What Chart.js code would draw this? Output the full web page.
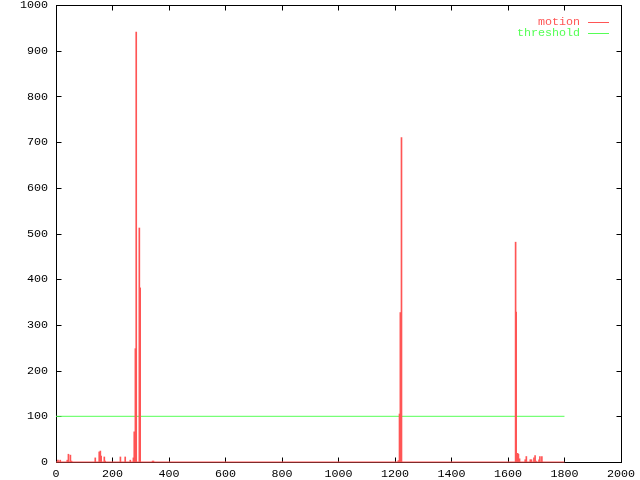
<!DOCTYPE html>
<html>
<head>
<meta charset="utf-8">
<script src="https://cdn.jsdelivr.net/npm/chart.js@4"></script>
<style>
  html, body { margin: 0; background: #fff; }
</style>
</head>
<body>
<canvas id="motionChart" width="640" height="480"></canvas>
<script>
// Data (frame number vs motion value)
const motionFrames = [7, 15, 40, 44, 51, 55, 139, 153, 157, 160, 171, 174, 228, 245, 263, 274, 277, 281, 284, 295, 298, 342, 345,
  1212, 1216, 1219, 1223, 1627, 1629, 1634, 1637, 1641, 1661, 1665, 1679, 1683, 1692, 1696, 1699, 1710, 1713, 1720];
const motionValues = [4, 4, 4, 17, 15, 2, 9, 22, 24, 13, 11, 2, 11, 11, 4, 9, 66, 248, 941, 512, 381, 2, 2,
  3, 105, 327, 710, 481, 328, 19, 17, 7, 5, 12, 5, 5, 9, 14, 2, 5, 12, 12];
const baselineFrames = [0, 1800];
const baselineValues = [0, 0];
const thresholdFrames = [0, 1800];
const thresholdValues = [100, 100];
const xTicks = [0, 200, 400, 600, 800, 1000, 1200, 1400, 1600, 1800, 2000];
const yTicks = [0, 100, 200, 300, 400, 500, 600, 700, 800, 900, 1000];

const motionColor = 'rgb(255,85,85)';
const thresholdColor = 'rgb(85,255,85)';
const tickFont = { family: "'Liberation Mono', 'DejaVu Sans Mono', monospace", size: 11.7 };

// gnuplot style frame: border box with inward ticks on all four sides
const framePlugin = {
    id: 'frame',
    beforeDatasetsDraw(chart) {
        const { ctx, chartArea: a, scales } = chart;
        ctx.save();
        ctx.strokeStyle = '#000';
        ctx.lineWidth = 1;
        const l = Math.round(a.left) + 0.5, r = Math.round(a.right) + 0.5;
        const t = Math.round(a.top) + 0.5, b = Math.round(a.bottom) + 0.5;
        ctx.strokeRect(l, t, r - l, b - t);
        ctx.beginPath();
        yTicks.forEach(v => {
            const y = Math.round(scales.y.getPixelForValue(v)) + 0.5;
            ctx.moveTo(l, y); ctx.lineTo(l + 5, y);
            ctx.moveTo(r, y); ctx.lineTo(r - 5, y);
        });
        xTicks.forEach(v => {
            const x = Math.round(scales.x.getPixelForValue(v)) + 0.5;
            ctx.moveTo(x, b); ctx.lineTo(x, b - 5);
            ctx.moveTo(x, t); ctx.lineTo(x, t + 5);
        });
        ctx.stroke();
        ctx.restore();
    },
    afterDraw(chart) {
        const { ctx, chartArea: a } = chart;
        const entries = [
            { label: 'motion', color: motionColor },
            { label: 'threshold', color: thresholdColor }
        ];
        ctx.save();
        ctx.font = tickFont.size + 'px ' + tickFont.family;
        ctx.textAlign = 'right';
        ctx.textBaseline = 'middle';
        entries.forEach((e, i) => {
            const y = Math.round(a.top) + 17 + i * 11;
            ctx.fillStyle = e.color;
            ctx.fillText(e.label, Math.round(a.right) - 41, y);
            ctx.strokeStyle = e.color;
            ctx.lineWidth = 1;
            ctx.beginPath();
            ctx.moveTo(Math.round(a.right) - 33, y + 0.5);
            ctx.lineTo(Math.round(a.right) - 12, y + 0.5);
            ctx.stroke();
        });
        ctx.restore();
    }
};

const ctx = document.getElementById('motionChart').getContext('2d');
new Chart(ctx, {
    data: {
        datasets: [
            {
                type: 'bar',
                label: 'motion',
                data: motionFrames.map((f, i) => ({ x: f, y: motionValues[i] })),
                backgroundColor: motionColor,
                barThickness: 1,
                borderWidth: 0
            },
            {
                type: 'line',
                label: 'motion baseline',
                data: baselineFrames.map((f, i) => ({ x: f, y: baselineValues[i] })),
                borderColor: motionColor,
                borderWidth: 1,
                pointRadius: 0,
                clip: false
            },
            {
                type: 'line',
                label: 'threshold',
                data: thresholdFrames.map((f, i) => ({ x: f, y: thresholdValues[i] })),
                borderColor: thresholdColor,
                borderWidth: 1,
                pointRadius: 0,
                clip: false
            }
        ]
    },
    options: {
        responsive: false,
        animation: false,
        layout: { padding: { top: 5, right: 15, left: 0, bottom: 0 } },
        plugins: {
            legend: { display: false },
            tooltip: { enabled: false }
        },
        scales: {
            x: {
                type: 'linear',
                min: 0,
                max: 2000,
                offset: false,
                grid: { display: false, drawTicks: false },
                border: { display: false },
                ticks: {
                    stepSize: 200,
                    color: '#000',
                    font: tickFont,
                    padding: 5,
                    maxRotation: 0,
                    autoSkip: false,
                    callback: v => String(v)
                },
                afterFit(scale) { scale.height = 18; }
            },
            y: {
                min: 0,
                max: 1000,
                grid: { display: false, drawTicks: false },
                border: { display: false },
                ticks: {
                    stepSize: 100,
                    color: '#000',
                    font: tickFont,
                    padding: 8,
                    callback: v => String(v)
                },
                afterFit(scale) {
                    scale.width = 56;
                    scale.paddingTop = 0;
                    scale.paddingBottom = 0;
                }
            }
        }
    },
    plugins: [framePlugin]
});
</script>
</body>
</html>
